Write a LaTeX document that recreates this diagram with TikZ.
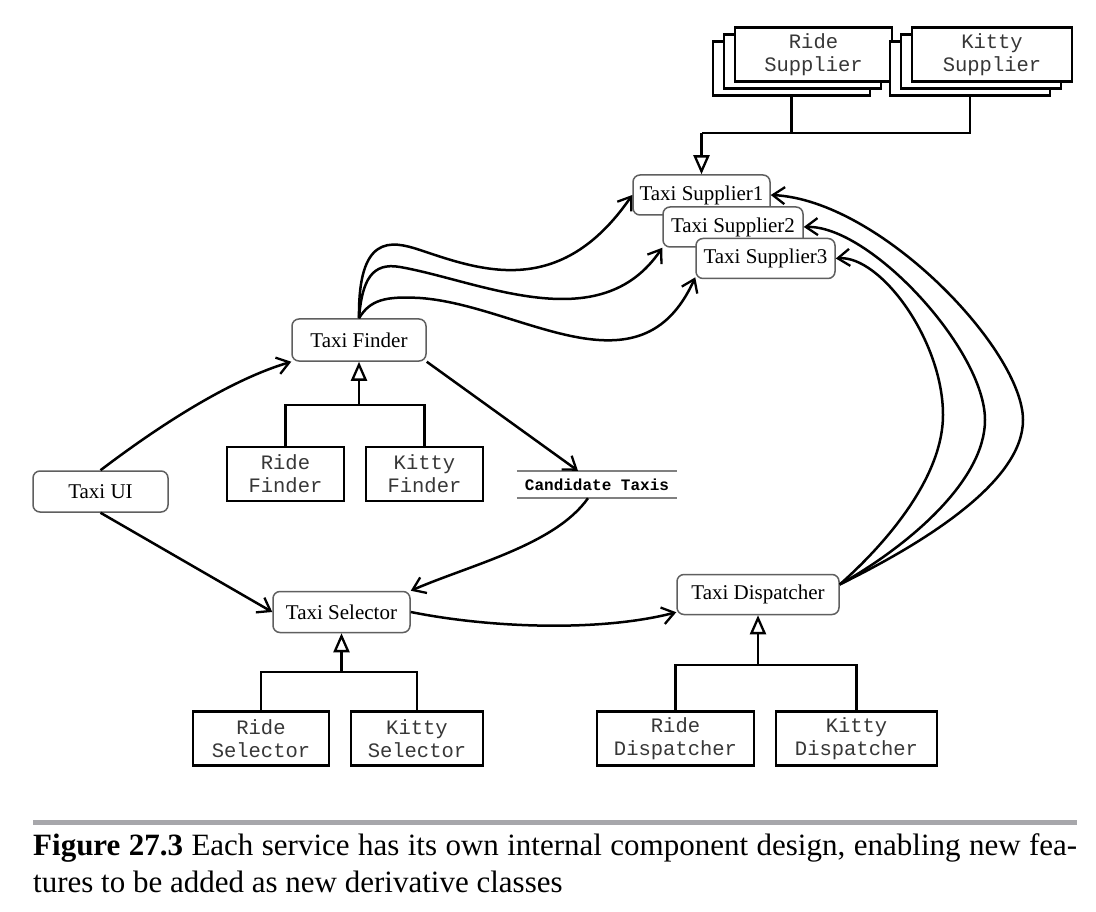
\documentclass[tikz,border=0pt]{standalone}
\usepackage{fontspec}
\setmainfont{Liberation Serif}
\newfontfamily\codefont{Liberation Mono}
\usetikzlibrary{arrows.meta, shadows}
\definecolor{BoxGray}{RGB}{95, 95, 95}
\definecolor{CodeText}{RGB}{55, 55, 55}
\definecolor{RuleGray}{RGB}{167, 167, 171}

\begin{document}
\begin{tikzpicture}[x=1pt,y=-1pt,
  svc/.style={draw=BoxGray, line width=1.5pt, rounded corners=7pt, fill=white,
    minimum height=41pt, minimum width=135pt, inner sep=3pt,
    font=\fontsize{21}{23}\selectfont},
  impl/.style={draw=black, line width=2.8pt, fill=white, minimum height=54pt,
    align=center, inner sep=2pt, text=CodeText,
    font=\codefont\fontsize{20.5}{23}\selectfont},
  stack/.style={double copy shadow={shadow xshift=-11pt, shadow yshift=-7pt}},
  uses/.style={line width=2.5pt, -{Straight Barb[length=12pt,width=17pt,line width=2.3pt]}},
  isa/.style={line width=2.8pt},
  inherit/.style={line width=2.8pt, -{Triangle[open,length=19pt,width=16pt,line width=2.3pt]}}
]
  \path[use as bounding box] (0,0) rectangle (1096,912);
  \fill[white] (0,0) rectangle (1096,912);

  % supplier implementations
  \node[impl, stack, minimum width=157pt] (rsup) at (813.5,54.5) {Ride\\Supplier};
  \node[impl, stack, minimum width=160pt] (ksup) at (992,54.5) {Kitty\\Supplier};
  \coordinate (rsupb) at ([shift={(-22,14)}]rsup.south);
  \coordinate (ksupb) at ([shift={(-22,14)}]ksup.south);
  \coordinate (supj) at (701.5,133);

  % services
  \node[svc, minimum width=137pt, minimum height=40pt] (ts1) at (701.5,195) {Taxi Supplier1};
  \node[svc, minimum width=140pt, minimum height=40pt] (ts2) at (733,227) {Taxi Supplier2};
  \node[svc, minimum width=139pt, minimum height=40pt] (ts3) at (765.5,258.5) {Taxi Supplier3};
  \node[svc, minimum width=134pt, minimum height=42pt] (tf) at (359,340) {Taxi Finder};
  \node[svc] (tui) at (100.5,491.5) {Taxi UI};
  \node[svc, minimum width=137pt] (tsel) at (341.5,612) {Taxi Selector};
  \node[svc, minimum width=162pt, minimum height=40pt] (td) at (758,594.5) {Taxi Dispatcher};

  \node[font=\codefont\bfseries\fontsize{16}{18}\selectfont, minimum width=160pt,
    minimum height=27pt, inner sep=0pt] (ct) at (597,484.5) {Candidate Taxis};
  \draw[gray, line width=1.6pt] (ct.north west) -- (ct.north east);
  \draw[gray, line width=1.6pt] (ct.south west) -- (ct.south east);

  % finder implementations
  \node[impl, minimum width=117pt] (rf) at (285.5,474) {Ride\\Finder};
  \node[impl, minimum width=117pt] (kf) at (424.5,474) {Kitty\\Finder};
  \coordinate (fj) at (359,405);

  % selector implementations
  \node[impl, minimum width=136pt] (rsel) at (261,738.5) {Ride\\Selector};
  \node[impl, minimum width=132pt] (ksel) at (417,738.5) {Kitty\\Selector};
  \coordinate (selj) at (341.5,672);

  % dispatcher implementations
  \node[impl, minimum width=157pt] (rd) at (675.5,738.5) {Ride\\Dispatcher};
  \node[impl, minimum width=161pt] (kd) at (856.5,738.5) {Kitty\\Dispatcher};
  \coordinate (dj) at (758,665);

  % inheritance
  \draw[isa] (rsupb) -- (rsupb |- supj);
  \draw[isa] (ksupb) |- (supj);
  \draw[inherit] (supj) -- (ts1.north);
  \draw[isa] (rf.north) |- (fj) -| (kf.north);
  \draw[inherit] (fj) -- (tf.south);
  \draw[isa] (rsel.north) |- (selj) -| (ksel.north);
  \draw[inherit] (selj) -- (tsel.south);
  \draw[isa] (rd.north) |- (dj) -| (kd.north);
  \draw[inherit] (dj) -- (td.south);

  % usage
  \draw[uses] (tui.north) .. controls (160,425) and (230,380) .. (tf.south west);
  \draw[uses] (tui.south) -- (tsel.west);
  \draw[uses] (tf.south east) -- ([xshift=-19pt]ct.north);
  \draw[uses] ([xshift=-9pt]ct.south) .. controls (555,545) and (470,565) .. (tsel.north east);
  \draw[uses] (tsel.east) .. controls (490,628) and (600,632) .. ([yshift=3pt]td.south west);
  % finder to suppliers
  \draw[uses] (tf.north) .. controls (358,235) and (390,240) .. (420,250)
    .. controls (480,270) and (560,300) .. (ts1.west);
  \draw[uses] (tf.north) .. controls (362,280) and (372,262) .. (400,267)
    .. controls (480,281) and (600,340) .. (ts2.south west);
  \draw[uses] (tf.north) .. controls (370,300) and (385,296) .. (420,298)
    .. controls (520,305) and (640,400) .. (ts3.195);
  % dispatcher to suppliers
  \draw[uses] (td.7) .. controls (930,540) and (1023,480) .. (1023,420)
    .. controls (1023,350) and (880,200) .. (ts1.east);
  \draw[uses] (td.7) .. controls (910,545) and (985,480) .. (985,420)
    .. controls (985,350) and (870,225) .. (ts2.east);
  \draw[uses] (td.7) .. controls (890,540) and (943,475) .. (943,415)
    .. controls (943,340) and (880,255) .. (ts3.east);

  % caption
  \draw[RuleGray, line width=5pt] (33,822.5) -- (1077,822.5);
  \node[anchor=base west, inner sep=0pt, font=\fontsize{31}{38}\selectfont] (cap1) at (33,855)
    {\makebox[1044pt][s]{\textbf{Figure 27.3} Each service has its own internal component design, enabling new fea-}};
  \node[anchor=base west, inner sep=0pt, font=\fontsize{31}{38}\selectfont] (cap2) at (33,892)
    {tures to be added as new derivative classes};
\end{tikzpicture}
\end{document}
